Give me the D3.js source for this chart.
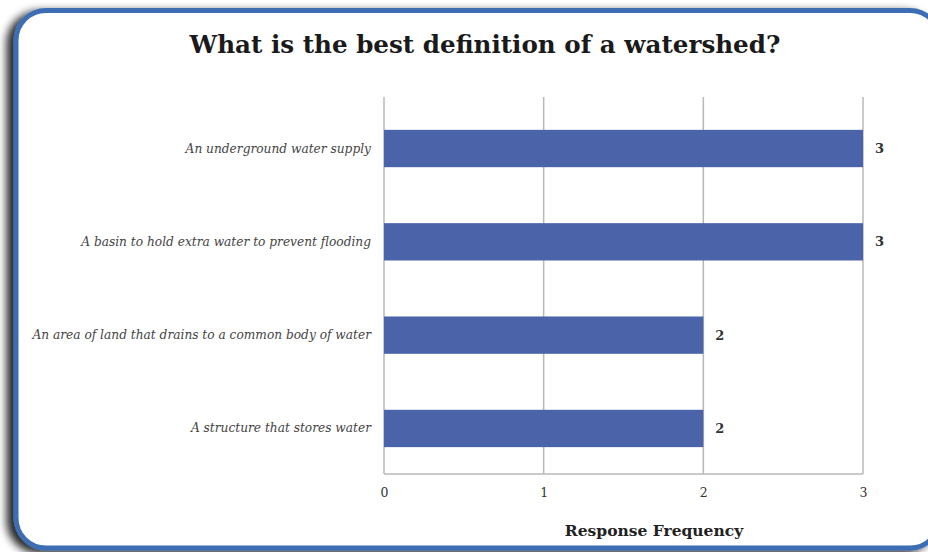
<!DOCTYPE html>
<html>
<head>
<meta charset="utf-8">
<script src="https://cdn.jsdelivr.net/npm/d3@7/dist/d3.min.js"></script>
<style>
  html, body { margin: 0; padding: 0; background: #fff; }
  svg { display: block; }
</style>
</head>
<body>
<svg id="chart" width="928" height="552"></svg>
<script>
// Survey answers, top to bottom
const categories = [
  "An underground water supply",
  "A basin to hold extra water to prevent flooding",
  "An area of land that drains to a common body of water",
  "A structure that stores water"
];
const responses = [3, 3, 2, 2];
const tickValues = [0, 1, 2, 3];

const W = 928, H = 552;
const svg = d3.select("#chart");

const defs = svg.append("defs");
const shadow = defs.append("filter").attr("id", "shadow")
  .attr("x", "-10%").attr("y", "-10%").attr("width", "120%").attr("height", "120%");
shadow.append("feGaussianBlur").attr("in", "SourceAlpha").attr("stdDeviation", 4).attr("result", "b");
shadow.append("feOffset").attr("in", "b").attr("dx", -7).attr("dy", 3).attr("result", "o");
shadow.append("feComponentTransfer").attr("in", "o").attr("result", "s")
  .append("feFuncA").attr("type", "linear").attr("slope", 0.85);
const merge = shadow.append("feMerge");
merge.append("feMergeNode").attr("in", "s");
merge.append("feMergeNode").attr("in", "SourceGraphic");

// Rounded frame, running slightly past the right edge
svg.append("rect")
  .attr("x", 16).attr("y", 10.5).attr("width", 924).attr("height", 537.5)
  .attr("rx", 30).attr("ry", 30)
  .attr("fill", "#fff")
  .attr("stroke", "#3d6db3").attr("stroke-width", 5)
  .attr("filter", "url(#shadow)");

const serif = "'DejaVu Serif', 'Liberation Serif', serif";

svg.append("text")
  .attr("x", 485).attr("y", 53)
  .attr("text-anchor", "middle")
  .attr("font-family", serif).attr("font-weight", "bold")
  .attr("font-size", 24.6).attr("fill", "#1a1a1a")
  .text("What is the best definition of a watershed?");

const m = { left: 384, right: 863, top: 97, bottom: 474 };

const x = d3.scaleLinear().domain([0, 3]).range([m.left, m.right]);
const y = d3.scaleBand().domain(categories).range([m.top, m.bottom])
  .paddingInner(0.6).paddingOuter(0.32).align(0.55);

// Vertical gridlines
svg.append("g")
  .selectAll("line").data(tickValues).join("line")
  .attr("x1", d => x(d)).attr("x2", d => x(d))
  .attr("y1", m.top).attr("y2", m.bottom)
  .attr("stroke", "#b8b8b8").attr("stroke-width", 1.5);

// Bottom axis line
svg.append("line")
  .attr("x1", m.left).attr("x2", m.right)
  .attr("y1", m.bottom).attr("y2", m.bottom)
  .attr("stroke", "#b8b8b8").attr("stroke-width", 1.5);

// Tick labels
const xAxis = d3.axisBottom(x).tickValues(tickValues).tickSize(0).tickPadding(14).tickFormat(d3.format("d"));
const gx = svg.append("g").attr("transform", `translate(0,${m.bottom})`).call(xAxis);
gx.select(".domain").remove();
gx.selectAll("text").attr("font-family", serif).attr("font-size", 12.5).attr("fill", "#333");

// Bars
svg.append("g")
  .selectAll("rect").data(categories).join("rect")
  .attr("x", x(0))
  .attr("y", d => y(d))
  .attr("width", (d, i) => x(responses[i]) - x(0))
  .attr("height", y.bandwidth())
  .attr("fill", "#4a63a9");

// Value labels
svg.append("g")
  .selectAll("text").data(categories).join("text")
  .attr("x", (d, i) => x(responses[i]) + 12)
  .attr("y", d => y(d) + y.bandwidth() / 2 + 4.5)
  .attr("font-family", serif).attr("font-weight", "bold")
  .attr("font-size", 13).attr("fill", "#333")
  .text((d, i) => responses[i]);

// Category labels
svg.append("g")
  .selectAll("text").data(categories).join("text")
  .attr("x", 371)
  .attr("y", d => y(d) + y.bandwidth() / 2 + 4)
  .attr("text-anchor", "end")
  .attr("font-family", serif).attr("font-style", "italic")
  .attr("font-size", 12.2).attr("fill", "#444")
  .text(d => d);

// Axis title
svg.append("text")
  .attr("x", 654).attr("y", 536)
  .attr("text-anchor", "middle")
  .attr("font-family", serif).attr("font-weight", "bold")
  .attr("font-size", 15.5).attr("fill", "#222")
  .text("Response Frequency");
</script>
</body>
</html>
